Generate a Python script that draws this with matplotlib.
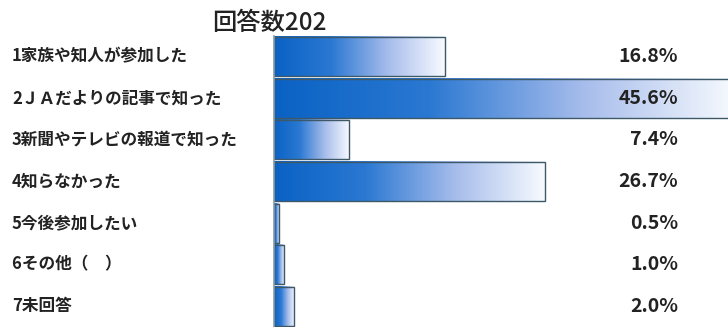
import matplotlib
matplotlib.use('Agg')
from matplotlib import pyplot as plt
from matplotlib.colors import LinearSegmentedColormap
from matplotlib.transforms import blended_transform_factory
import numpy as np

plt.rcParams['font.family'] = ['Noto Sans CJK JP', 'DejaVu Sans']

# データ
title = '回答数202'
labels = ['1家族や知人が参加した', '2ＪＡだよりの記事で知った', '3新聞やテレビの報道で知った',
          '4知らなかった', '5今後参加したい', '6その他（　）', '7未回答']
values = [16.8, 45.6, 7.4, 26.7, 0.5, 1.0, 2.0]

fig = plt.figure(figsize=(7.28, 3.27), dpi=100)
ax = fig.add_axes([274 / 728, 0.0, 454 / 728, 0.89])

# 青→白のグラデーション
cmap = LinearSegmentedColormap.from_list('bluegrad', ['#0a62c4', '#2a78d2', '#a6bceb', '#f8fbff'])
grad = np.linspace(0, 1, 256).reshape(1, -1)

h = 0.94
for i, v in enumerate(values):
    ax.imshow(grad, cmap=cmap, aspect='auto', extent=[0, v, i + h / 2, i - h / 2], zorder=1)
    ax.barh(i, v, height=h, facecolor='none', edgecolor='#3d5866', linewidth=1.0, zorder=2)

ax.set_xlim(0, 44.7)
ax.set_ylim(6.5, -0.5)
ax.set_aspect('auto')
ax.set_xticks([])
ax.set_yticks([])
for s in ['top', 'right', 'bottom']:
    ax.spines[s].set_visible(False)
ax.spines['left'].set_color('#8a9aa6')
ax.spines['left'].set_linewidth(1.2)

# ラベルとパーセント
tr = blended_transform_factory(fig.transFigure, ax.transData)
for i, (lab, v) in enumerate(zip(labels, values)):
    ax.text(12 / 728, i, lab, transform=tr, ha='left', va='center',
            fontsize=12, fontweight='bold', color='#222222')
    ax.text(678 / 728, i, f'{v:.1f}%', transform=tr, ha='right', va='center',
            fontsize=14, fontweight='bold', color='#222222', zorder=3)

fig.text(212 / 728, 1 - 23 / 327, title, ha='left', va='center', fontsize=17.5,
         fontweight='medium', color='#222222')

plt.savefig('out.png', dpi=100)
